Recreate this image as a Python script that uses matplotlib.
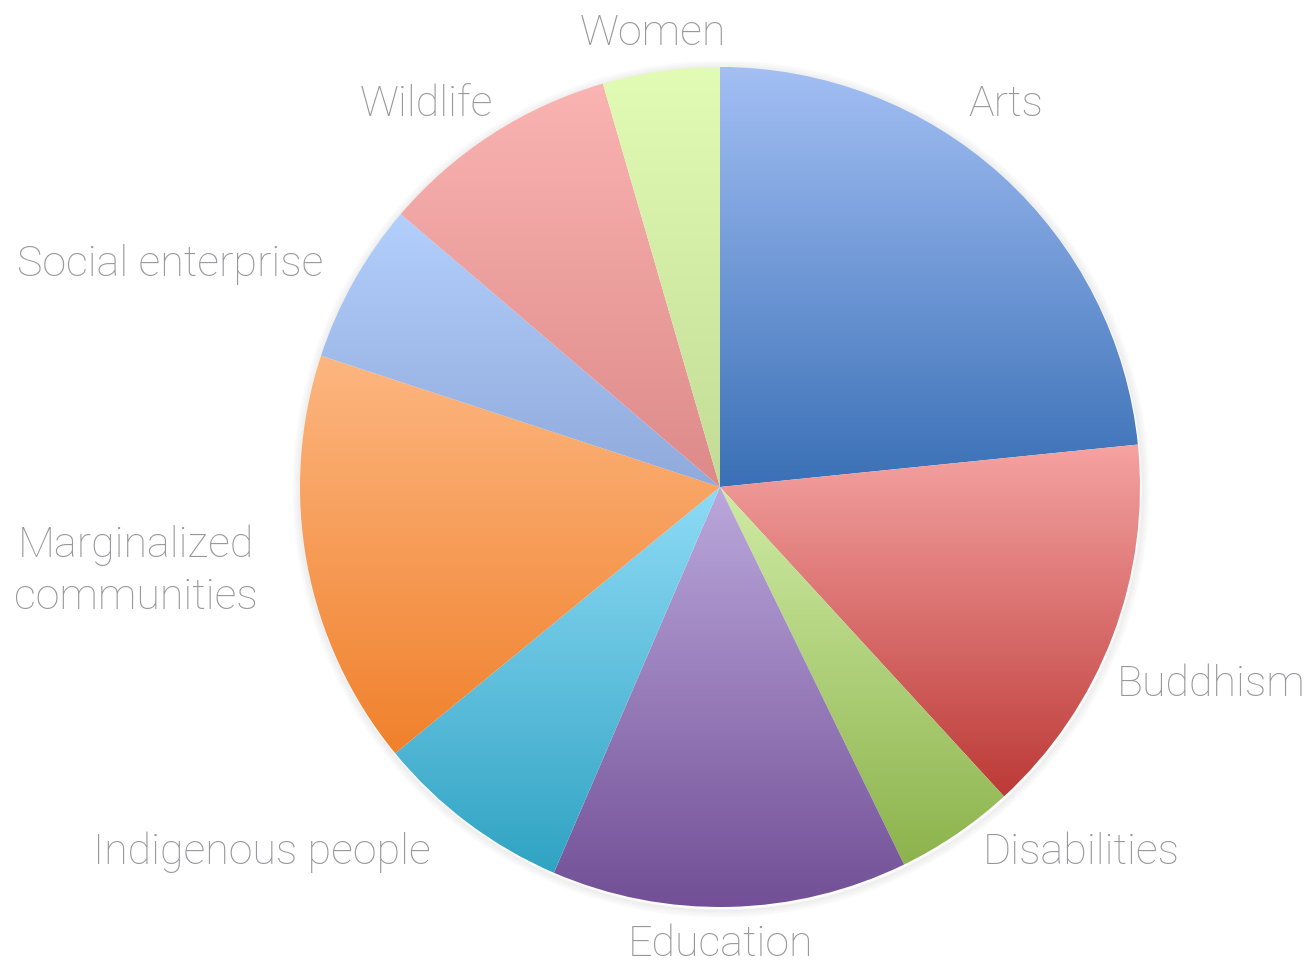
import numpy as np
import matplotlib
matplotlib.use("Agg")
import matplotlib.pyplot as plt
from matplotlib.colors import LinearSegmentedColormap
from matplotlib.patches import Circle

# données (parts, en %)
categorias = ["Arts", "Buddhism", "Disabilities", "Education", "Indigenous people",
              "Marginalized\ncommunities", "Social enterprise", "Wildlife", "Women"]
valores = [23.4, 14.8, 4.6, 13.7, 7.6, 16.0, 6.2, 9.25, 4.5]

# couleurs haut -> bas du dégradé
cores_topo = ["#A3BFF4", "#F5A3A2", "#CFEBA4", "#BBA8DC", "#8EDBF6",
              "#FDB680", "#B3CFFC", "#FAB4B2", "#E2FCB6"]
cores_base = ["#3A70B6", "#BC3A37", "#8CB34C", "#724F96", "#30A3C3",
              "#F0812C", "#8FAADB", "#DD8A89", "#C2DC96"]

# position des étiquettes (décalage / rayon)
pos_rotulos = [(0.68, 0.91), (1.17, -0.47), (0.86, -0.87), (0.0, -1.09), (-1.09, -0.87),
               (-1.39, -0.20), (-1.31, 0.53), (-0.70, 0.91), (-0.16, 1.08)]

W, H = 1312, 969
cx, cy, r = 720, H - 487, 420

fig = plt.figure(figsize=(W / 100, H / 100), dpi=100)
ax = fig.add_axes([0, 0, 1, 1])

# ombre légère
for k in range(8):
    ax.add_patch(Circle((cx + 1, cy - 2), r + 1 + k, facecolor="none",
                        edgecolor="#000000", alpha=0.035 - k * 0.004, lw=1.5, zorder=0))

wedges, _ = ax.pie(valores, center=(cx, cy), radius=r, startangle=90,
                   counterclock=False, frame=True,
                   wedgeprops=dict(linewidth=0, edgecolor="none"))

grad = np.linspace(0, 1, 256).reshape(-1, 1)
for w, c1, c2 in zip(wedges, cores_topo, cores_base):
    w.set_facecolor("none")
    bb = w.get_path().get_extents(w.get_patch_transform())
    cmap = LinearSegmentedColormap.from_list("g", [c2, c1])
    im = ax.imshow(grad, cmap=cmap, aspect="auto", origin="lower",
                   extent=[bb.x0, bb.x1, bb.y0, bb.y1], zorder=2, interpolation="bilinear")
    im.set_clip_path(w)

for nome, (dx, dy) in zip(categorias, pos_rotulos):
    ax.text(cx + dx * r, cy + dy * r, nome, ha="center", va="center",
            fontsize=31, color="#98989C", family="Roboto", fontweight="light",
            linespacing=1.35, zorder=5)

ax.set_xlim(0, W)
ax.set_ylim(0, H)
ax.set_aspect("equal")
ax.axis("off")
fig.savefig("out.png", dpi=100, facecolor="white")
